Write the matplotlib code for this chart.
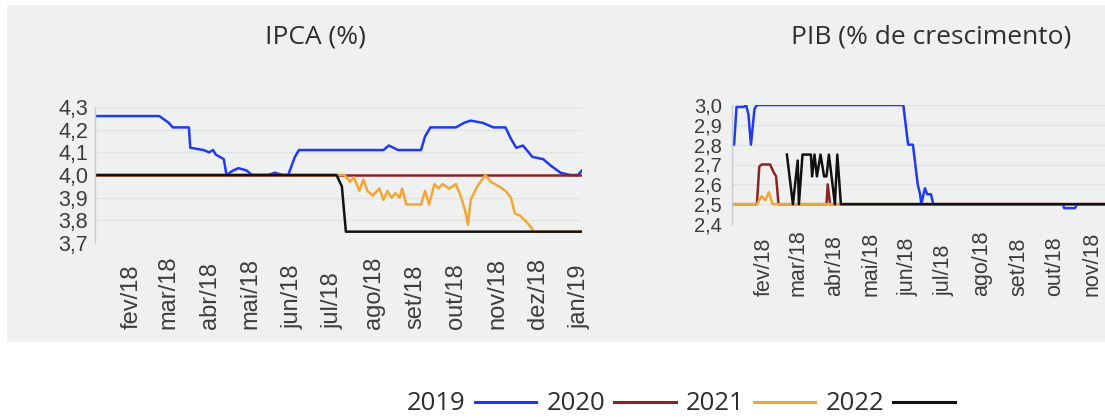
import matplotlib
matplotlib.use("Agg")
import matplotlib.pyplot as plt
import pandas as pd
from matplotlib.patches import Rectangle
from matplotlib.lines import Line2D

# ---------------- data ----------------
series_names = ["2019", "2020", "2021", "2022"]
series_colors = ["#2039f2", "#8a2424", "#f2a735", "#111111"]

month_ticks = ["2018-02-01", "2018-03-01", "2018-04-01", "2018-05-01", "2018-06-01", "2018-07-01",
               "2018-08-01", "2018-09-01", "2018-10-01", "2018-11-01", "2018-12-01", "2019-01-01"]
month_labels = ["fev/18", "mar/18", "abr/18", "mai/18", "jun/18", "jul/18",
                "ago/18", "set/18", "out/18", "nov/18", "dez/18", "jan/19"]
x_start, x_end = "2018-01-05", "2019-01-03"

ipca_ticks = [3.7, 3.8, 3.9, 4.0, 4.1, 4.2, 4.3]
ipca_tick_labels = ["3,7", "3,8", "3,9", "4,0", "4,1", "4,2", "4,3"]
pib_ticks = [2.4, 2.5, 2.6, 2.7, 2.8, 2.9, 3.0]
pib_tick_labels = ["2,4", "2,5", "2,6", "2,7", "2,8", "2,9", "3,0"]

ipca_2019_dates = ["2018-01-05", "2018-02-22", "2018-03-01", "2018-03-04", "2018-03-16", "2018-03-17",
                   "2018-03-27", "2018-03-31", "2018-04-03", "2018-04-05", "2018-04-08", "2018-04-11",
                   "2018-04-13", "2018-04-18", "2018-04-22", "2018-04-28", "2018-05-02", "2018-05-14",
                   "2018-05-19", "2018-05-25", "2018-05-29", "2018-06-03", "2018-06-06", "2018-08-08",
                   "2018-08-12", "2018-08-19", "2018-09-05", "2018-09-08", "2018-09-12", "2018-10-01",
                   "2018-10-07", "2018-10-12", "2018-10-21", "2018-10-29", "2018-11-07", "2018-11-11",
                   "2018-11-15", "2018-11-20", "2018-11-27", "2018-12-05", "2018-12-11", "2018-12-18",
                   "2018-12-25", "2018-12-31", "2019-01-03"]
ipca_2019_values = [4.26, 4.26, 4.23, 4.21, 4.21, 4.12, 4.11, 4.10, 4.11, 4.09, 4.08, 4.07,
                    4.00, 4.02, 4.03, 4.02, 4.00, 4.00, 4.01, 4.00, 4.00, 4.08, 4.11, 4.11,
                    4.13, 4.11, 4.11, 4.17, 4.21, 4.21, 4.23, 4.24, 4.23, 4.21, 4.21, 4.16,
                    4.12, 4.13, 4.08, 4.07, 4.04, 4.01, 4.00, 4.00, 4.02]

ipca_2020_dates = ["2018-01-05", "2019-01-03"]
ipca_2020_values = [4.00, 4.00]

ipca_2021_dates = ["2018-01-05", "2018-07-10", "2018-07-14", "2018-07-17", "2018-07-21", "2018-07-24",
                   "2018-07-27", "2018-07-31", "2018-08-05", "2018-08-08", "2018-08-11", "2018-08-14",
                   "2018-08-17", "2018-08-20", "2018-08-22", "2018-08-25", "2018-08-31", "2018-09-05",
                   "2018-09-08", "2018-09-11", "2018-09-15", "2018-09-18", "2018-09-21", "2018-09-26",
                   "2018-10-01", "2018-10-05", "2018-10-08", "2018-10-10", "2018-10-12", "2018-10-17",
                   "2018-10-23", "2018-10-27", "2018-11-02", "2018-11-07", "2018-11-11", "2018-11-14",
                   "2018-11-18", "2018-11-23", "2018-11-26", "2018-11-28", "2019-01-03"]
ipca_2021_values = [4.00, 4.00, 3.97, 3.99, 3.93, 3.98, 3.93, 3.91, 3.94, 3.89, 3.93, 3.90,
                    3.92, 3.90, 3.94, 3.87, 3.87, 3.87, 3.93, 3.87, 3.96, 3.94, 3.96, 3.94,
                    3.96, 3.90, 3.84, 3.78, 3.89, 3.95, 4.00, 3.97, 3.95, 3.93, 3.90, 3.83,
                    3.82, 3.79, 3.77, 3.75, 3.75]

ipca_2022_dates = ["2018-01-05", "2018-07-04", "2018-07-08", "2018-07-11", "2019-01-03"]
ipca_2022_values = [4.00, 4.00, 3.95, 3.75, 3.75]

pib_2019_dates = ["2018-01-05", "2018-01-07", "2018-01-09", "2018-01-15", "2018-01-17", "2018-01-19",
                  "2018-01-21", "2018-01-24", "2018-01-26", "2018-05-28", "2018-06-01", "2018-06-05",
                  "2018-06-09", "2018-06-11", "2018-06-12", "2018-06-15", "2018-06-17", "2018-06-20",
                  "2018-06-22", "2018-10-08", "2018-10-09", "2018-10-18", "2018-10-20", "2019-01-03"]
pib_2019_values = [2.80, 2.80, 2.99, 2.99, 3.00, 2.95, 2.80, 2.98, 3.00, 3.00, 2.80, 2.80,
                   2.60, 2.55, 2.50, 2.58, 2.55, 2.55, 2.50, 2.50, 2.48, 2.48, 2.50, 2.50]

pib_2020_dates = ["2018-01-05", "2018-01-26", "2018-01-28", "2018-01-30", "2018-02-06", "2018-02-09",
                  "2018-02-11", "2018-02-13", "2018-03-25", "2018-03-26", "2018-03-28", "2019-01-03"]
pib_2020_values = [2.50, 2.50, 2.69, 2.70, 2.70, 2.66, 2.64, 2.50, 2.50, 2.60, 2.50, 2.50]

pib_2021_dates = ["2018-01-05", "2018-01-26", "2018-01-30", "2018-02-02", "2018-02-05", "2018-02-08",
                  "2019-01-03"]
pib_2021_values = [2.50, 2.50, 2.54, 2.52, 2.56, 2.50, 2.50]

pib_2022_dates = ["2018-02-20", "2018-02-25", "2018-03-01", "2018-03-02", "2018-03-05", "2018-03-12",
                  "2018-03-13", "2018-03-15", "2018-03-17", "2018-03-20", "2018-03-23", "2018-03-25",
                  "2018-03-27", "2018-04-01", "2018-04-03", "2018-04-06", "2019-01-03"]
pib_2022_values = [2.75, 2.50, 2.72, 2.50, 2.75, 2.75, 2.64, 2.75, 2.64, 2.75, 2.64, 2.64,
                   2.75, 2.50, 2.75, 2.50, 2.50]

ipca_series = [(ipca_2019_dates, ipca_2019_values), (ipca_2020_dates, ipca_2020_values),
               (ipca_2021_dates, ipca_2021_values), (ipca_2022_dates, ipca_2022_values)]
pib_series = [(pib_2019_dates, pib_2019_values), (pib_2020_dates, pib_2020_values),
              (pib_2021_dates, pib_2021_values), (pib_2022_dates, pib_2022_values)]

# ---------------- figure ----------------
W, H = 1105, 418
fig = plt.figure(figsize=(W / 100, H / 100), dpi=100)
fig.patch.set_facecolor("white")
fig.add_artist(Rectangle((7 / W, 1 - 342 / H), 1 - 7 / W, (342 - 5) / H,
                         transform=fig.transFigure, facecolor="#eff0f0",
                         edgecolor="none", zorder=-10))

tick_font = "Liberation Sans"
title_font = "Open Sans"


def style_axes(ax, series, yticks, ylabels, ysize, xsize, xpad, ypad):
    ax.set_facecolor("none")
    for (d, v), c in zip(series, series_colors):
        ax.plot(pd.to_datetime(d), v, color=c, lw=1.8, solid_joinstyle="round")
    ax.set_xlim(pd.Timestamp(x_start), pd.Timestamp(x_end))
    ax.set_ylim(yticks[0], yticks[-1])
    ax.set_yticks(yticks, ylabels)
    ax.set_xticks(pd.to_datetime(month_ticks), month_labels)
    for lab in ax.get_xticklabels():
        lab.set_rotation(90)
        lab.set_va("bottom")
        lab.set_ha("center")
        lab.set_fontfamily(tick_font)
        lab.set_fontsize(xsize)
        lab.set_color("#3c3c3c")
    for lab in ax.get_yticklabels():
        lab.set_fontfamily(tick_font)
        lab.set_fontsize(ysize)
        lab.set_color("#3c3c3c")
    ax.tick_params(axis="x", length=0, pad=xpad)
    ax.tick_params(axis="y", length=0, pad=ypad)
    ax.grid(axis="y", color="#e2e4e4", lw=1)
    ax.set_axisbelow(True)
    for s in ["top", "right", "bottom"]:
        ax.spines[s].set_visible(False)
    ax.spines["left"].set_color("#c9cbcb")
    ax.spines["left"].set_linewidth(1)


ax1 = fig.add_axes([95 / W, 1 - 243 / H, 487 / W, 136 / H])
style_axes(ax1, ipca_series, ipca_ticks, ipca_tick_labels, 15.5, 17, 62, 5)

ax2 = fig.add_axes([731.7 / W, 1 - 224 / H, 435.6 / W, 119 / H])
style_axes(ax2, pib_series, pib_ticks, pib_tick_labels, 14.5, 15.5, 52, 7)

fig.text(315 / W, 1 - 43 / H, "IPCA (%)", ha="center", va="baseline",
         fontsize=19, family=title_font, color="#2e2e2e")
fig.text(931 / W, 1 - 43 / H, "PIB (% de crescimento)", ha="center", va="baseline",
         fontsize=19, family=title_font, color="#2e2e2e")

handles = [Line2D([], [], color=c, lw=2.2) for c in series_colors]
fig.legend(handles, series_names, loc="center", bbox_to_anchor=(681 / W, 1 - 404 / H),
           ncol=4, frameon=False, markerfirst=False, handlelength=2.4,
           handletextpad=0.35, columnspacing=0.4, borderpad=0, borderaxespad=0,
           prop={"family": title_font, "size": 18.5}, labelcolor="#2e2e2e")

fig.savefig("out.png", dpi=100)
